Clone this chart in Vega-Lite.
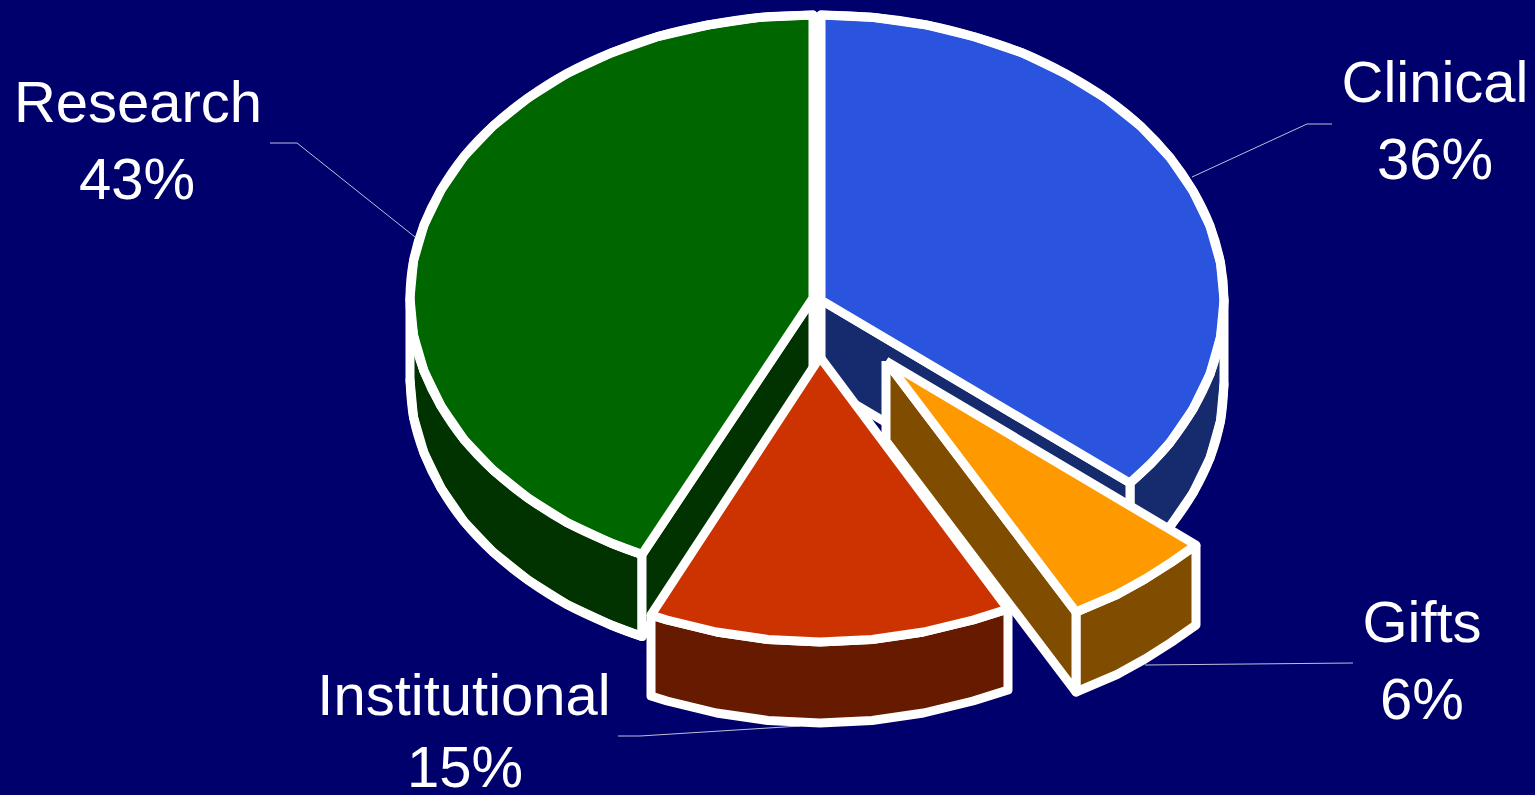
{"$schema":"https://vega.github.io/schema/vega-lite/v6.json","width":1535,"height":795,"padding":0,"autosize":{"type":"none"},"background":"#00006C","config":{"view":{"stroke":null}},
"datasets":{
"outlines":[
{"part":"co","tone":"Clinical side","i":1,"x":1224,"y":300},{"part":"co","tone":"Clinical side","i":2,"x":1220.5,"y":337},{"part":"co","tone":"Clinical side","i":3,"x":1210,"y":374},{"part":"co","tone":"Clinical side","i":4,"x":1193,"y":409},{"part":"co","tone":"Clinical side","i":5,"x":1170,"y":442.5},{"part":"co","tone":"Clinical side","i":6,"x":1151,"y":463.5},{"part":"co","tone":"Clinical side","i":7,"x":1130,"y":483},{"part":"co","tone":"Clinical side","i":8,"x":1130,"y":567},{"part":"co","tone":"Clinical side","i":9,"x":1151,"y":547.5},{"part":"co","tone":"Clinical side","i":10,"x":1170,"y":526.5},{"part":"co","tone":"Clinical side","i":11,"x":1193,"y":493},{"part":"co","tone":"Clinical side","i":12,"x":1210,"y":458},{"part":"co","tone":"Clinical side","i":13,"x":1220.5,"y":421},{"part":"co","tone":"Clinical side","i":14,"x":1224,"y":384},{"part":"co","tone":"Clinical side","i":15,"x":1224,"y":300},
{"part":"ci","tone":"Clinical side","i":1,"x":821,"y":300},{"part":"ci","tone":"Clinical side","i":2,"x":1130,"y":483},{"part":"ci","tone":"Clinical side","i":3,"x":1130,"y":567},{"part":"ci","tone":"Clinical side","i":4,"x":821,"y":384},{"part":"ci","tone":"Clinical side","i":5,"x":821,"y":300},
{"part":"ct","tone":"Clinical top","i":1,"x":821,"y":300},{"part":"ct","tone":"Clinical top","i":2,"x":821,"y":15},{"part":"ct","tone":"Clinical top","i":3,"x":874,"y":17.5},{"part":"ct","tone":"Clinical top","i":4,"x":925,"y":24.7},{"part":"ct","tone":"Clinical top","i":5,"x":975,"y":37},{"part":"ct","tone":"Clinical top","i":6,"x":1022.5,"y":53},{"part":"ct","tone":"Clinical top","i":7,"x":1066,"y":74},{"part":"ct","tone":"Clinical top","i":8,"x":1106,"y":98.5},{"part":"ct","tone":"Clinical top","i":9,"x":1141,"y":126.5},{"part":"ct","tone":"Clinical top","i":10,"x":1170,"y":157.5},{"part":"ct","tone":"Clinical top","i":11,"x":1193,"y":191},{"part":"ct","tone":"Clinical top","i":12,"x":1210,"y":226},{"part":"ct","tone":"Clinical top","i":13,"x":1220.5,"y":263},{"part":"ct","tone":"Clinical top","i":14,"x":1224,"y":300},{"part":"ct","tone":"Clinical top","i":15,"x":1220.5,"y":337},{"part":"ct","tone":"Clinical top","i":16,"x":1210,"y":374},{"part":"ct","tone":"Clinical top","i":17,"x":1193,"y":409},{"part":"ct","tone":"Clinical top","i":18,"x":1170,"y":442.5},{"part":"ct","tone":"Clinical top","i":19,"x":1151,"y":463.5},{"part":"ct","tone":"Clinical top","i":20,"x":1130,"y":483},{"part":"ct","tone":"Clinical top","i":21,"x":821,"y":300},
{"part":"ro","tone":"Research side","i":1,"x":410,"y":298},{"part":"ro","tone":"Research side","i":2,"x":413.5,"y":335},{"part":"ro","tone":"Research side","i":3,"x":424,"y":371},{"part":"ro","tone":"Research side","i":4,"x":441,"y":406},{"part":"ro","tone":"Research side","i":5,"x":464,"y":439.5},{"part":"ro","tone":"Research side","i":6,"x":493,"y":470},{"part":"ro","tone":"Research side","i":7,"x":528,"y":498},{"part":"ro","tone":"Research side","i":8,"x":567,"y":522.5},{"part":"ro","tone":"Research side","i":9,"x":611,"y":543},{"part":"ro","tone":"Research side","i":10,"x":642,"y":554.5},{"part":"ro","tone":"Research side","i":11,"x":642,"y":636.5},{"part":"ro","tone":"Research side","i":12,"x":611,"y":625},{"part":"ro","tone":"Research side","i":13,"x":567,"y":604.5},{"part":"ro","tone":"Research side","i":14,"x":528,"y":580},{"part":"ro","tone":"Research side","i":15,"x":493,"y":552},{"part":"ro","tone":"Research side","i":16,"x":464,"y":521.5},{"part":"ro","tone":"Research side","i":17,"x":441,"y":488},{"part":"ro","tone":"Research side","i":18,"x":424,"y":453},{"part":"ro","tone":"Research side","i":19,"x":413.5,"y":417},{"part":"ro","tone":"Research side","i":20,"x":410,"y":380},{"part":"ro","tone":"Research side","i":21,"x":410,"y":298},
{"part":"ri","tone":"Research side","i":1,"x":813,"y":298},{"part":"ri","tone":"Research side","i":2,"x":642,"y":554.5},{"part":"ri","tone":"Research side","i":3,"x":642,"y":636.5},{"part":"ri","tone":"Research side","i":4,"x":813,"y":380},{"part":"ri","tone":"Research side","i":5,"x":813,"y":298},
{"part":"rt","tone":"Research top","i":1,"x":813,"y":298},{"part":"rt","tone":"Research top","i":2,"x":813,"y":15},{"part":"rt","tone":"Research top","i":3,"x":759.5,"y":17.4},{"part":"rt","tone":"Research top","i":4,"x":708,"y":25},{"part":"rt","tone":"Research top","i":5,"x":658,"y":36.5},{"part":"rt","tone":"Research top","i":6,"x":611,"y":53},{"part":"rt","tone":"Research top","i":7,"x":567,"y":73.5},{"part":"rt","tone":"Research top","i":8,"x":528,"y":98},{"part":"rt","tone":"Research top","i":9,"x":493,"y":126},{"part":"rt","tone":"Research top","i":10,"x":464,"y":156.5},{"part":"rt","tone":"Research top","i":11,"x":441,"y":190},{"part":"rt","tone":"Research top","i":12,"x":424,"y":225},{"part":"rt","tone":"Research top","i":13,"x":413.5,"y":261},{"part":"rt","tone":"Research top","i":14,"x":410,"y":298},{"part":"rt","tone":"Research top","i":15,"x":413.5,"y":335},{"part":"rt","tone":"Research top","i":16,"x":424,"y":371},{"part":"rt","tone":"Research top","i":17,"x":441,"y":406},{"part":"rt","tone":"Research top","i":18,"x":464,"y":439.5},{"part":"rt","tone":"Research top","i":19,"x":493,"y":470},{"part":"rt","tone":"Research top","i":20,"x":528,"y":498},{"part":"rt","tone":"Research top","i":21,"x":567,"y":522.5},{"part":"rt","tone":"Research top","i":22,"x":611,"y":543},{"part":"rt","tone":"Research top","i":23,"x":642,"y":554.5},{"part":"rt","tone":"Research top","i":24,"x":813,"y":298},
{"part":"io","tone":"Institutional side","i":1,"x":651,"y":615},{"part":"io","tone":"Institutional side","i":2,"x":667,"y":620},{"part":"io","tone":"Institutional side","i":3,"x":716.5,"y":632},{"part":"io","tone":"Institutional side","i":4,"x":768,"y":639.5},{"part":"io","tone":"Institutional side","i":5,"x":820,"y":642},{"part":"io","tone":"Institutional side","i":6,"x":872,"y":639.5},{"part":"io","tone":"Institutional side","i":7,"x":923.5,"y":632},{"part":"io","tone":"Institutional side","i":8,"x":973,"y":620},{"part":"io","tone":"Institutional side","i":9,"x":1008,"y":609},{"part":"io","tone":"Institutional side","i":10,"x":1008,"y":690},{"part":"io","tone":"Institutional side","i":11,"x":973,"y":701},{"part":"io","tone":"Institutional side","i":12,"x":923.5,"y":713},{"part":"io","tone":"Institutional side","i":13,"x":872,"y":720.5},{"part":"io","tone":"Institutional side","i":14,"x":820,"y":723},{"part":"io","tone":"Institutional side","i":15,"x":768,"y":720.5},{"part":"io","tone":"Institutional side","i":16,"x":716.5,"y":713},{"part":"io","tone":"Institutional side","i":17,"x":667,"y":701},{"part":"io","tone":"Institutional side","i":18,"x":651,"y":696},{"part":"io","tone":"Institutional side","i":19,"x":651,"y":615},
{"part":"it","tone":"Institutional top","i":1,"x":820,"y":357},{"part":"it","tone":"Institutional top","i":2,"x":651,"y":615},{"part":"it","tone":"Institutional top","i":3,"x":667,"y":620},{"part":"it","tone":"Institutional top","i":4,"x":716.5,"y":632},{"part":"it","tone":"Institutional top","i":5,"x":768,"y":639.5},{"part":"it","tone":"Institutional top","i":6,"x":820,"y":642},{"part":"it","tone":"Institutional top","i":7,"x":872,"y":639.5},{"part":"it","tone":"Institutional top","i":8,"x":923.5,"y":632},{"part":"it","tone":"Institutional top","i":9,"x":973,"y":620},{"part":"it","tone":"Institutional top","i":10,"x":1008,"y":609},{"part":"it","tone":"Institutional top","i":11,"x":820,"y":357},
{"part":"go","tone":"Gifts side","i":1,"x":1196,"y":545},{"part":"go","tone":"Gifts side","i":2,"x":1171,"y":562.5},{"part":"go","tone":"Gifts side","i":3,"x":1145,"y":579},{"part":"go","tone":"Gifts side","i":4,"x":1117,"y":594.5},{"part":"go","tone":"Gifts side","i":5,"x":1076,"y":612},{"part":"go","tone":"Gifts side","i":6,"x":1076,"y":692},{"part":"go","tone":"Gifts side","i":7,"x":1117,"y":674.5},{"part":"go","tone":"Gifts side","i":8,"x":1145,"y":659},{"part":"go","tone":"Gifts side","i":9,"x":1171,"y":642.5},{"part":"go","tone":"Gifts side","i":10,"x":1196,"y":625},{"part":"go","tone":"Gifts side","i":11,"x":1196,"y":545},
{"part":"gi","tone":"Gifts side","i":1,"x":886,"y":361},{"part":"gi","tone":"Gifts side","i":2,"x":1076,"y":612},{"part":"gi","tone":"Gifts side","i":3,"x":1076,"y":692},{"part":"gi","tone":"Gifts side","i":4,"x":886,"y":441},{"part":"gi","tone":"Gifts side","i":5,"x":886,"y":361},
{"part":"gt","tone":"Gifts top","i":1,"x":886,"y":361},{"part":"gt","tone":"Gifts top","i":2,"x":1196,"y":545},{"part":"gt","tone":"Gifts top","i":3,"x":1171,"y":562.5},{"part":"gt","tone":"Gifts top","i":4,"x":1145,"y":579},{"part":"gt","tone":"Gifts top","i":5,"x":1117,"y":594.5},{"part":"gt","tone":"Gifts top","i":6,"x":1076,"y":612},{"part":"gt","tone":"Gifts top","i":7,"x":886,"y":361}],
"rims":[
{"rim":"ct","i":1,"x":821,"y":15},{"rim":"ct","i":2,"x":874,"y":17.5},{"rim":"ct","i":3,"x":925,"y":24.7},{"rim":"ct","i":4,"x":975,"y":37},{"rim":"ct","i":5,"x":1022.5,"y":53},{"rim":"ct","i":6,"x":1066,"y":74},{"rim":"ct","i":7,"x":1106,"y":98.5},{"rim":"ct","i":8,"x":1141,"y":126.5},{"rim":"ct","i":9,"x":1170,"y":157.5},{"rim":"ct","i":10,"x":1193,"y":191},{"rim":"ct","i":11,"x":1210,"y":226},{"rim":"ct","i":12,"x":1220.5,"y":263},{"rim":"ct","i":13,"x":1224,"y":300},{"rim":"ct","i":14,"x":1220.5,"y":337},{"rim":"ct","i":15,"x":1210,"y":374},{"rim":"ct","i":16,"x":1193,"y":409},{"rim":"ct","i":17,"x":1170,"y":442.5},{"rim":"ct","i":18,"x":1151,"y":463.5},{"rim":"ct","i":19,"x":1130,"y":483},
{"rim":"cb","i":1,"x":1224,"y":384},{"rim":"cb","i":2,"x":1220.5,"y":421},{"rim":"cb","i":3,"x":1210,"y":458},{"rim":"cb","i":4,"x":1193,"y":493},{"rim":"cb","i":5,"x":1170,"y":526.5},{"rim":"cb","i":6,"x":1151,"y":547.5},{"rim":"cb","i":7,"x":1130,"y":567},
{"rim":"rt","i":1,"x":813,"y":15},{"rim":"rt","i":2,"x":759.5,"y":17.4},{"rim":"rt","i":3,"x":708,"y":25},{"rim":"rt","i":4,"x":658,"y":36.5},{"rim":"rt","i":5,"x":611,"y":53},{"rim":"rt","i":6,"x":567,"y":73.5},{"rim":"rt","i":7,"x":528,"y":98},{"rim":"rt","i":8,"x":493,"y":126},{"rim":"rt","i":9,"x":464,"y":156.5},{"rim":"rt","i":10,"x":441,"y":190},{"rim":"rt","i":11,"x":424,"y":225},{"rim":"rt","i":12,"x":413.5,"y":261},{"rim":"rt","i":13,"x":410,"y":298},{"rim":"rt","i":14,"x":413.5,"y":335},{"rim":"rt","i":15,"x":424,"y":371},{"rim":"rt","i":16,"x":441,"y":406},{"rim":"rt","i":17,"x":464,"y":439.5},{"rim":"rt","i":18,"x":493,"y":470},{"rim":"rt","i":19,"x":528,"y":498},{"rim":"rt","i":20,"x":567,"y":522.5},{"rim":"rt","i":21,"x":611,"y":543},{"rim":"rt","i":22,"x":642,"y":554.5},
{"rim":"rb","i":1,"x":642,"y":636.5},{"rim":"rb","i":2,"x":611,"y":625},{"rim":"rb","i":3,"x":567,"y":604.5},{"rim":"rb","i":4,"x":528,"y":580},{"rim":"rb","i":5,"x":493,"y":552},{"rim":"rb","i":6,"x":464,"y":521.5},{"rim":"rb","i":7,"x":441,"y":488},{"rim":"rb","i":8,"x":424,"y":453},{"rim":"rb","i":9,"x":413.5,"y":417},{"rim":"rb","i":10,"x":410,"y":380}]
},
"encoding":{"x":{"field":"x","type":"quantitative","scale":{"domain":[0,1535]},"axis":null},"y":{"field":"y","type":"quantitative","scale":{"domain":[795,0]},"axis":null}},
"layer":[
{"data":{"values":[
{"part":"Research leader","i":1,"x":270,"y":143},{"part":"Research leader","i":2,"x":297,"y":143},{"part":"Research leader","i":3,"x":415,"y":237},
{"part":"Clinical leader","i":1,"x":1332,"y":124},{"part":"Clinical leader","i":2,"x":1307,"y":124},{"part":"Clinical leader","i":3,"x":1192,"y":177},
{"part":"Gifts leader","i":1,"x":1353,"y":663},{"part":"Gifts leader","i":2,"x":1145,"y":665},
{"part":"Institutional leader","i":1,"x":618,"y":736},{"part":"Institutional leader","i":2,"x":640,"y":736},{"part":"Institutional leader","i":3,"x":800,"y":726}]},
"mark":{"type":"line","stroke":"#FFFFFF","strokeWidth":1,"opacity":0.75},
"encoding":{"detail":{"field":"part"},"order":{"field":"i"}}},
{"data":{"name":"outlines"},"transform":[{"filter":{"field":"part","oneOf":["co","ci","ct","ro","ri","rt"]}}],
"mark":{"type":"line","filled":true,"stroke":"#FFFFFF","strokeWidth":9,"strokeJoin":"round"},
"encoding":{"detail":{"field":"part"},"order":{"field":"i"},
"color":{"field":"tone","type":"nominal","legend":null,"scale":{"domain":["Clinical top","Clinical side","Research top","Research side","Institutional top","Institutional side","Gifts top","Gifts side"],"range":["#2B54DE","#162A6E","#006600","#003300","#CC3300","#661A00","#FF9900","#804D00"]}}}},
{"data":{"name":"rims"},
"mark":{"type":"line","interpolate":"cardinal","stroke":"#FFFFFF","strokeWidth":9,"strokeCap":"round"},
"encoding":{"detail":{"field":"rim"},"order":{"field":"i"}}},
{"data":{"name":"outlines"},"transform":[{"filter":{"field":"part","oneOf":["io","it","go","gi","gt"]}}],
"mark":{"type":"line","filled":true,"stroke":"#FFFFFF","strokeWidth":9,"strokeJoin":"round"},
"encoding":{"detail":{"field":"part"},"order":{"field":"i"},
"color":{"field":"tone","type":"nominal","legend":null,"scale":{"domain":["Clinical top","Clinical side","Research top","Research side","Institutional top","Institutional side","Gifts top","Gifts side"],"range":["#2B54DE","#162A6E","#006600","#003300","#CC3300","#661A00","#FF9900","#804D00"]}}}},
{"data":{"values":[
{"label":"Research","x":138,"y":122},{"label":"43%","x":137,"y":199},
{"label":"Clinical","x":1435,"y":102},{"label":"36%","x":1435,"y":179},
{"label":"Gifts","x":1422,"y":642},{"label":"6%","x":1422,"y":719},
{"label":"Institutional","x":464,"y":715},{"label":"15%","x":465,"y":787}]},
"mark":{"type":"text","font":"Liberation Sans","fontSize":58,"color":"#FFFFFF","align":"center","baseline":"alphabetic"},
"encoding":{"text":{"field":"label"}}}
]}
